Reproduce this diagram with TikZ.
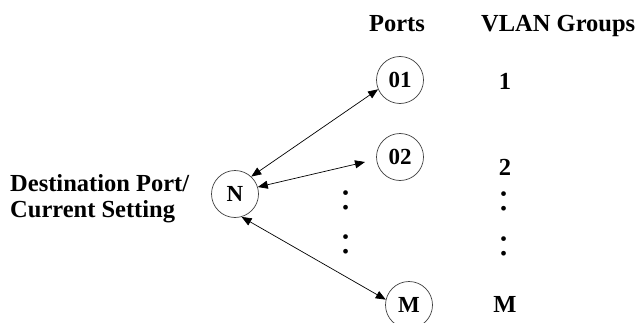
\documentclass[tikz,border=0pt]{standalone}
\usepackage{fontspec}
\setmainfont{Liberation Serif}
\usetikzlibrary{arrows.meta}
\begin{document}
\begin{tikzpicture}[x=1pt,y=1pt,
  port/.style={circle,draw=black!75,line width=0.7pt,minimum size=47pt,inner sep=0pt,font=\fontsize{23}{26}\selectfont\bfseries},
  lbl/.style={font=\fontsize{24.5}{28}\selectfont\bfseries,inner sep=0pt},
  link/.style={{Triangle[length=10pt,width=8pt]}-{Triangle[length=10pt,width=8pt]},line width=0.7pt},
  vdots/.style={font=\fontsize{40}{40}\selectfont,inner sep=0pt}]
\useasboundingbox (0,0) rectangle (636,322);
\fill[white] (0,0) rectangle (636,322);
% port circles
\node[port] (N) at (235,128) {N};
\node[port] (p01) at (400,242) {01};
\node[port] (p02) at (400,165) {02};
\node[port] (pM) at (409,17) {M};
% labels
\node[lbl,anchor=base west] (dest) at (10,131) {Destination Port/};
\node[lbl,anchor=base west] (cur) at (10,105) {Current Setting};
\node[lbl,anchor=base] (ports) at (397,290) {Ports};
\node[lbl,anchor=base west] (vlan) at (481,290) {VLAN Groups};
\node[lbl] (g1) at (505,241) {1};
\node[lbl] (g2) at (505,155) {2};
\node[lbl] (gM) at (505,18) {M};
% dots
\node[vdots] (d1) at (346,122) {:};
\node[vdots] (d2) at (346,77.5) {:};
\node[vdots] (d3) at (504,120.5) {:};
\node[vdots] (d4) at (504,75.5) {:};
% connectors
\coordinate (c02) at (365,160);
\draw[link] (N.47) -- (p01.203);
\draw[link] (N.17) -- (c02);
\draw[link] (N.286) -- (pM.167);
\end{tikzpicture}
\end{document}
